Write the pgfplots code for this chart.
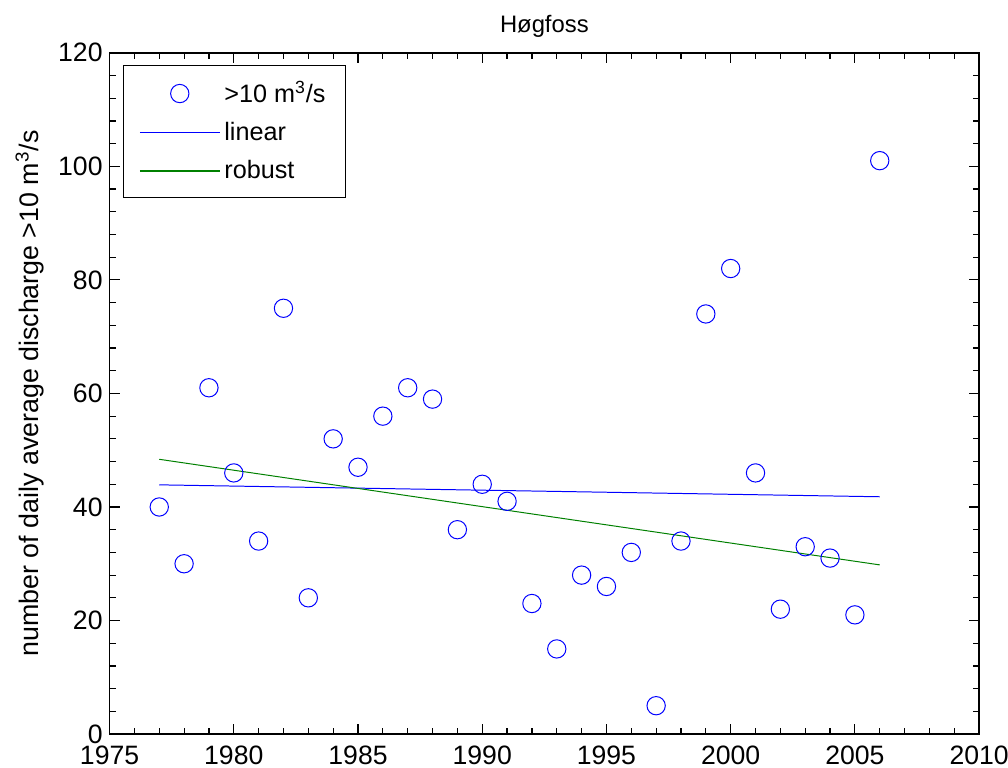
\documentclass[border=0pt]{standalone}
\usepackage{pgfplots}
\pgfplotsset{compat=1.18}
\usepackage{fontspec}
\setmainfont{Liberation Sans}
\definecolor{mblue}{RGB}{0,0,255}
\definecolor{mgreen}{RGB}{0,128,0}
\begin{document}
\begin{tikzpicture}
\path[use as bounding box] (-55bp,-17bp) rectangle (451bp,368.5bp);
\begin{axis}[
    scale only axis, width=436.5bp, height=342bp,
    xmin=1975, xmax=2010, ymin=0, ymax=120,
    xtick={1975,1980,...,2010}, ytick={0,20,...,120},
    minor x tick num=4, minor y tick num=4,
    tick align=inside, major tick length=5bp, minor tick length=3bp,
    tick style={black, line width=0.6pt},
    axis line style={line width=0.8pt},
    xticklabel style={/pgf/number format/1000 sep={}, yshift=-2.5bp},
    /pgf/number format/assume math mode=true,
    tick label style={font=\fontsize{13.4}{16}\selectfont},
    title={Høgfoss}, title style={font=\fontsize{12}{14}\selectfont, yshift=-2bp},
    ylabel={number of daily average discharge >10 m\textsuperscript{3}/s},
    ylabel style={font=\fontsize{13.5}{15}\selectfont, yshift=0bp},
    legend style={at={(0.015,0.982)}, anchor=north west, line width=0.6pt,
        font=\fontsize{12.7}{15}\selectfont, row sep=4.5bp, inner xsep=8bp, inner ysep=6bp},
    legend cell align=left,
]
\addplot[only marks, mark=o, mark size=4.6bp, mark options={draw=mblue, line width=0.5pt},
    legend image code/.code={\draw[draw=mblue, line width=0.5pt] (20bp,0bp) circle (4.6bp);}]
coordinates {
(1977,40) (1978,30) (1979,61) (1980,46) (1981,34) (1982,75) (1983,24) (1984,52)
(1985,47) (1986,56) (1987,61) (1988,59) (1989,36) (1990,44) (1991,41) (1992,23)
(1993,15) (1994,28) (1995,26) (1996,32) (1997,5) (1998,34) (1999,74) (2000,82)
(2001,46) (2002,22) (2003,33) (2004,31) (2005,21) (2006,101)
};
\addplot[color=mblue, line width=0.5pt,
    legend image code/.code={\draw[color=mblue, line width=0.8pt] (0bp,0.2bp) -- (40bp,0.2bp);}]
coordinates {(1977,43.9) (2006,41.8)};
\addplot[color=mgreen, line width=0.5pt,
    legend image code/.code={\draw[color=mgreen, line width=0.8pt] (0bp,0.2bp) -- (40bp,0.2bp);}]
coordinates {(1977,48.4) (2006,29.8)};
\legend{{>10 m\textsuperscript{3}/s},{linear},{robust}}
\end{axis}
\end{tikzpicture}
\end{document}
